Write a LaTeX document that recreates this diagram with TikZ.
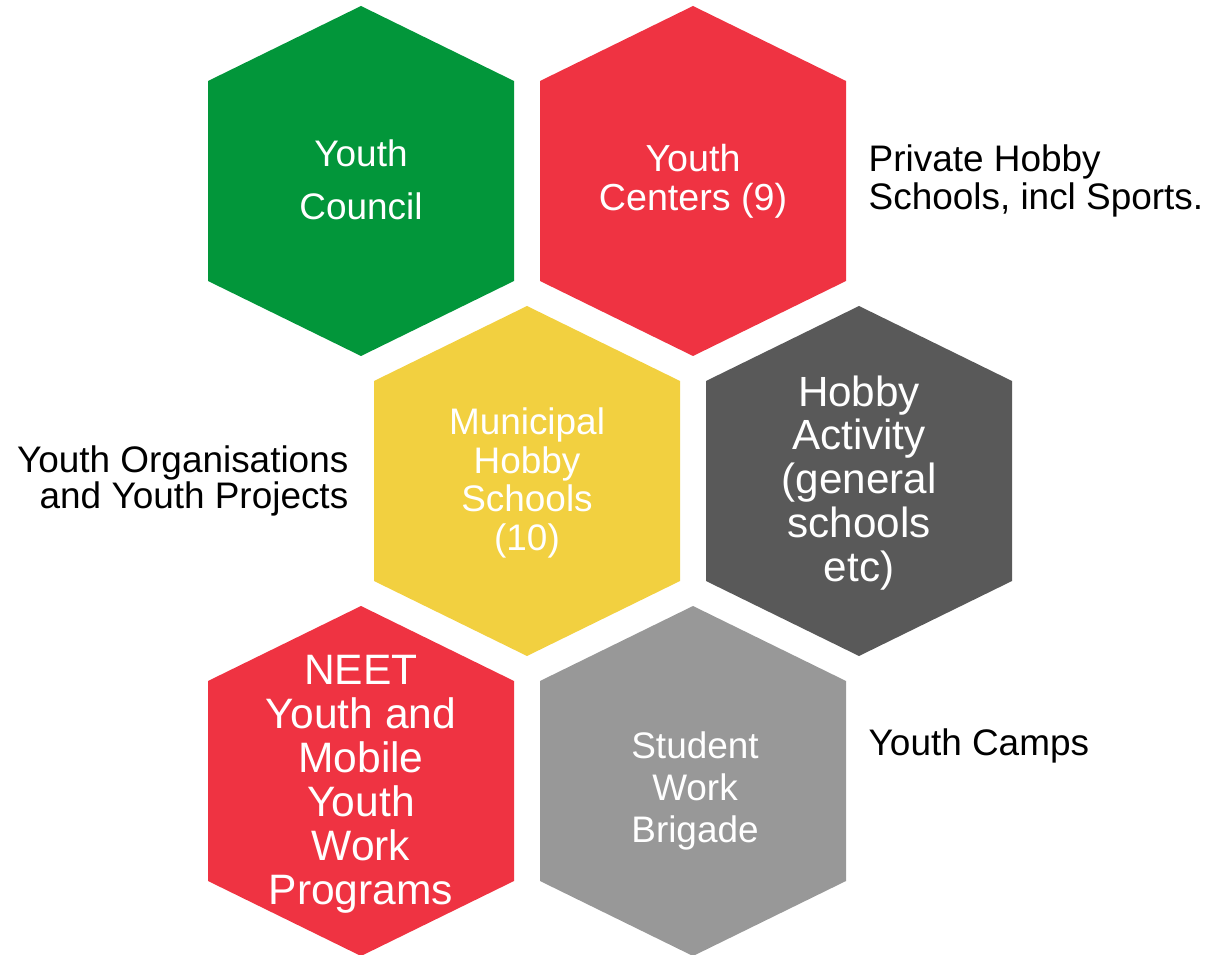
\documentclass[tikz,border=0pt]{standalone}
\usepackage{fontspec}
\setmainfont{Liberation Sans}

\definecolor{hexgreen}{RGB}{2,150,58}
\definecolor{hexred}{RGB}{239,51,66}
\definecolor{hexyellow}{RGB}{242,208,64}
\definecolor{hexdark}{RGB}{89,89,89}
\definecolor{hexgrey}{RGB}{152,152,152}

\tikzset{
  hexcell/.pic={
    \path[fill] (0,-175) -- (153,-100) -- (153,100) -- (0,175)
      -- (-153,100) -- (-153,-100) -- cycle;
  },
  hexlabel/.style={text=white, align=center, inner sep=0pt},
  sidelabel/.style={text=black, inner sep=0pt},
}

\begin{document}
\begin{tikzpicture}[x=0.01cm, y=-0.01cm]
\useasboundingbox (0,0) rectangle (1209,955);

% honeycomb
\pic[fill=hexgreen]  at (361,181) {hexcell};
\pic[fill=hexred]    at (693,181) {hexcell};
\pic[fill=hexyellow] at (527,481) {hexcell};
\pic[fill=hexdark]   at (859,481) {hexcell};
\pic[fill=hexred]    at (361,781) {hexcell};
\pic[fill=hexgrey]   at (693,781) {hexcell};

% labels inside the cells
\begin{scope}[every node/.style={hexlabel}]
\node[font={\fontsize{10.5pt}{15.1pt}\selectfont}] (council) at (361,180) {Youth\\Council};
\node[font={\fontsize{10.7pt}{11.1pt}\selectfont}] (centers) at (693,181) {Youth\\Centers (9)};
\node[font={\fontsize{10.5pt}{11pt}\selectfont}] (municipal) at (527,483) {Municipal\\Hobby\\Schools\\(10)};
\node[font={\fontsize{12pt}{12.5pt}\selectfont}] (activity) at (859,483) {Hobby\\Activity\\(general\\schools\\etc)};
\node[font={\fontsize{12.1pt}{12.5pt}\selectfont}] (neet) at (361,784) {NEET\\Youth and\\Mobile\\Youth\\Work\\Programs};
\node[font={\fontsize{10.5pt}{12pt}\selectfont}] (brigade) at (695,791) {Student\\Work\\Brigade};
\end{scope}

% labels outside
\begin{scope}[every node/.style={sidelabel}]
\node[font={\fontsize{10.5pt}{10.4pt}\selectfont}, align=right, anchor=east] (organisations) at (349,481) {Youth Organisations\\and Youth Projects};
\node[font={\fontsize{10.5pt}{10.8pt}\selectfont}, align=left, anchor=west] (private) at (868,181) {Private Hobby\\Schools, incl Sports.};
\node[font={\fontsize{10.5pt}{11pt}\selectfont}, anchor=west] (camps) at (868,746) {Youth Camps};
\end{scope}
\end{tikzpicture}
\end{document}
